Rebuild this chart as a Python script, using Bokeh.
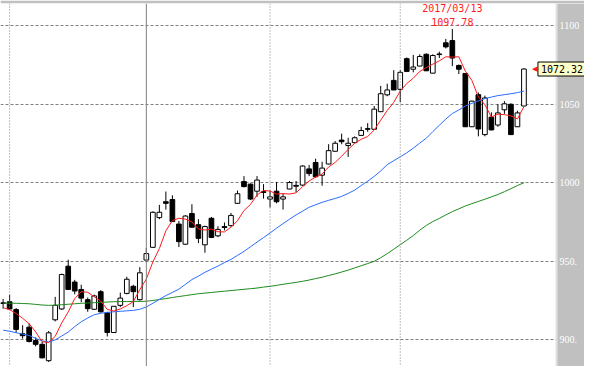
from bokeh.plotting import figure
from bokeh.models import (Range1d, FixedTicker, Span, Label, LabelSet, BoxAnnotation,
                          ColumnDataSource)
from bokeh.embed import file_html
from bokeh.resources import INLINE

# ---- data ----
opens = [923.6, 924.3, 919.3, 903.9, 908.1, 899.6, 897.2, 886.8, 912.8, 919.7,
         946.9, 936.8, 932.1, 925.6, 919.5, 930.7, 917.3, 904.7, 922.0, 929.6,
         934.1, 925.6, 950.8, 958.9, 977.8, 987.9, 989.3, 973.7, 960.9, 980.4,
         973.3, 960.5, 977.4, 966.2, 972.1, 972.7, 986.9, 1000.7, 999.1, 994.6,
         994.3, 989.6, 994.6, 989.6, 996.0, 998.3, 998.5, 1008.8, 1012.9, 1004.8,
         1011.9, 1020.0, 1027.1, 1023.7, 1025.5, 1030.1, 1034.4, 1034.0, 1045.2, 1055.9,
         1065.1, 1059.4, 1078.9, 1072.2, 1074.2, 1081.7, 1069.7, 1081.9, 1089.0, 1090.4,
         1074.6, 1069.5, 1035.6, 1056.0, 1030.6, 1041.7, 1036.7, 1046.4, 1049.9, 1035.6,
         1048.8]
highs = [926.0, 928.8, 920.3, 909.4, 910.6, 901.6, 898.7, 905.7, 927.4, 942.2,
         951.0, 938.2, 935.1, 927.0, 928.8, 931.7, 917.9, 921.5, 930.1, 940.2,
         935.1, 946.3, 958.5, 981.8, 985.9, 994.4, 992.0, 975.7, 979.4, 986.3,
         976.8, 972.7, 978.2, 972.3, 974.7, 980.8, 995.0, 1004.2, 999.5, 1004.2,
         999.1, 995.0, 1000.5, 993.0, 1001.1, 1001.1, 1011.1, 1011.3, 1015.3, 1013.3,
         1024.5, 1026.5, 1031.2, 1028.6, 1029.5, 1035.6, 1037.9, 1048.8, 1061.6, 1063.0,
         1071.6, 1071.6, 1079.7, 1081.3, 1081.7, 1082.3, 1081.7, 1083.4, 1091.5, 1097.78,
         1075.2, 1069.8, 1052.2, 1057.4, 1055.4, 1044.8, 1049.9, 1051.9, 1050.5, 1045.8,
         1072.8]
lows = [919.9, 919.2, 904.5, 900.8, 898.4, 895.9, 888.3, 886.0, 911.8, 919.1,
        931.9, 929.0, 924.0, 917.9, 919.1, 917.3, 902.2, 904.5, 920.9, 929.0,
        920.9, 925.0, 949.4, 958.7, 976.8, 982.9, 975.1, 959.1, 960.5, 971.5,
        961.6, 955.5, 964.8, 965.4, 969.7, 972.1, 986.7, 997.1, 989.1, 991.0,
        989.9, 984.3, 986.9, 982.9, 995.8, 994.0, 998.0, 1004.2, 1003.2, 998.1,
        1011.7, 1019.9, 1024.5, 1016.4, 1025.1, 1029.9, 1032.4, 1033.9, 1044.9, 1055.0,
        1058.9, 1051.3, 1070.6, 1070.2, 1074.1, 1071.1, 1069.5, 1079.3, 1085.4, 1074.2,
        1069.1, 1035.4, 1035.4, 1029.5, 1029.5, 1033.3, 1035.6, 1043.8, 1030.4, 1035.4,
        1048.7]
closes = [923.2, 919.7, 906.7, 902.7, 899.0, 897.2, 888.6, 904.5, 922.0, 941.6,
          932.1, 931.1, 926.6, 919.9, 928.0, 917.9, 904.7, 921.4, 926.6, 938.6,
          930.7, 942.7, 954.9, 981.2, 981.2, 986.9, 975.3, 962.5, 978.8, 971.7,
          964.6, 972.1, 965.2, 970.3, 971.5, 979.2, 993.0, 997.5, 989.6, 1001.7,
          993.8, 991.0, 987.9, 991.0, 1000.1, 997.8, 1010.6, 1005.8, 1003.8, 1009.3,
          1020.4, 1025.1, 1026.1, 1025.1, 1028.6, 1033.2, 1034.0, 1046.8, 1056.6, 1059.0,
          1059.0, 1070.2, 1070.8, 1073.6, 1080.3, 1071.2, 1080.9, 1081.5, 1086.4, 1079.3,
          1072.2, 1035.6, 1051.9, 1034.2, 1053.9, 1033.6, 1044.4, 1050.2, 1030.6, 1044.4,
          1072.32]
ma_short = [920.5, 919.3, 916.8, 913.8, 910.3, 905.1, 898.8, 898.4, 902.3, 910.8,
            917.8, 926.3, 930.7, 930.3, 927.5, 924.7, 919.4, 918.4, 919.7, 921.8,
            924.4, 932.0, 938.7, 949.6, 958.1, 969.4, 975.9, 977.4, 976.9, 975.0,
            970.6, 969.9, 970.5, 968.8, 968.7, 971.7, 975.8, 982.3, 986.2, 992.2,
            995.1, 994.7, 992.8, 993.1, 992.8, 993.6, 997.5, 1001.1, 1003.6, 1005.5,
            1010.0, 1012.9, 1016.9, 1021.2, 1025.1, 1027.6, 1029.4, 1033.5, 1039.8, 1045.9,
            1051.1, 1058.3, 1063.1, 1066.5, 1070.8, 1073.2, 1075.4, 1077.5, 1080.1, 1079.9,
            1080.1, 1071.0, 1065.1, 1054.6, 1049.6, 1041.8, 1043.6, 1043.3, 1042.5, 1040.6,
            1048.4]
ma_mid = [906.2, 905.5, 904.6, 903.7, 902.8, 901.0, 899.4, 898.7, 900.0, 902.5,
          905.0, 908.5, 911.5, 914.0, 916.0, 917.0, 917.5, 917.9, 918.2, 918.5,
          918.8, 919.5, 921.0, 923.3, 925.8, 928.2, 930.2, 932.3, 935.3, 938.4,
          940.6, 943.0, 945.0, 947.0, 949.2, 951.2, 953.8, 956.3, 959.3, 962.2,
          965.1, 968.0, 971.1, 974.0, 976.8, 979.5, 981.9, 984.4, 986.0, 987.5,
          988.8, 990.0, 991.3, 993.2, 995.3, 998.2, 1001.0, 1004.0, 1007.5, 1011.5,
          1014.0, 1016.5, 1019.0, 1022.0, 1025.2, 1028.3, 1032.5, 1036.5, 1040.5, 1044.0,
          1046.3, 1048.8, 1050.5, 1052.0, 1053.5, 1054.5, 1055.4, 1056.0, 1056.6, 1057.3,
          1058.3]
ma_long = [923.4, 923.4, 923.3, 923.2, 923.0, 922.6, 922.2, 922.0, 922.1, 922.4,
           922.7, 923.0, 923.3, 923.5, 923.7, 923.9, 924.1, 924.3, 924.4, 924.4,
           924.5, 924.5, 924.6, 925.1, 925.7, 926.3, 927.0, 927.6, 928.2, 928.8,
           929.4, 929.8, 930.2, 930.6, 931.0, 931.4, 931.8, 932.2, 932.6, 933.0,
           933.6, 934.1, 934.7, 935.4, 936.0, 936.6, 937.3, 938.1, 939.0, 939.9,
           941.0, 942.0, 943.2, 944.4, 945.8, 947.2, 948.6, 950.0, 952.3, 954.9,
           957.7, 960.6, 963.4, 966.4, 969.8, 972.8, 975.3, 977.3, 979.5, 981.6,
           983.4, 985.2, 986.7, 988.1, 989.5, 991.0, 992.5, 994.3, 996.2, 998.2,
           1000.0]
y_ticks = [900, 950, 1000, 1050, 1100]
y_tick_labels = ["900.", "950.", "1000", "1050", "1100"]
month_start_index = [1, 22, 41, 61]      # 2016/12, 2017/01, 2017/02, 2017/03
month_is_new_year = [False, True, False, False]
peak_date = "2017/03/13"

# ---- layout constants ----
W, H = 584, 366
X_LO, X_CHART_HI = -0.4, 85.0          # visible candle area
PANEL_PX = 28                          # width of the grey price-scale panel
chart_px = W - PANEL_PX
X_HI = X_LO + (X_CHART_HI - X_LO) * W / chart_px
GREY = "#c0c0c0"
FONT = "DejaVu Sans Mono"

idx = list(range(len(closes)))
p = figure(width=W, height=H, x_range=Range1d(X_LO, X_HI),
           y_range=Range1d(883.1, 1114.0), output_backend="svg",
           toolbar_location=None, y_axis_location=None, x_axis_location=None)
p.min_border_left = 0
p.min_border_bottom = 0
p.min_border_right = 0
p.min_border_top = 3
p.border_fill_color = GREY
p.background_fill_color = "white"
p.outline_line_color = None
p.xgrid.visible = False
p.ygrid.ticker = FixedTicker(ticks=y_ticks)
p.ygrid.grid_line_color = "#808080"
p.ygrid.grid_line_dash = "3 2"

for m, ny in zip(month_start_index, month_is_new_year):
    p.add_layout(Span(location=m, dimension="height", line_color="#808080",
                      line_width=1, line_dash="solid" if ny else "1 2"))

# candles
src = ColumnDataSource(dict(
    x=idx, o=opens, h=highs, l=lows, c=closes,
    top=[max(a, b) for a, b in zip(opens, closes)],
    bot=[min(a, b) for a, b in zip(opens, closes)],
    fill=["white" if c >= o else "black" for o, c in zip(opens, closes)],
))
p.segment(x0="x", y0="l", x1="x", y1="h", source=src, line_color="black", line_width=1)
p.vbar(x="x", width=0.72, top="top", bottom="bot", source=src,
       fill_color="fill", line_color="black", line_width=1)

# moving averages
p.line(idx, ma_long, line_color="#1f8a1f", line_width=1)
p.line(idx, ma_mid, line_color="#2a6cff", line_width=1)
p.line(idx, ma_short, line_color="#ff1a1a", line_width=1)

# peak annotation
pk = max(idx, key=lambda i: highs[i])
p.add_layout(Label(x=pk, y=highs[pk], text=f"{highs[pk]:.2f}", text_align="center",
                   text_baseline="bottom", y_offset=3, text_color="#ff1a1a",
                   text_font=FONT, text_font_size="10px"))
p.add_layout(Label(x=pk, y=highs[pk], text=peak_date, text_align="center",
                   text_baseline="bottom", y_offset=15, text_color="#ff1a1a",
                   text_font=FONT, text_font_size="10px"))

# grey price scale on the right, with its tick labels
p.add_layout(BoxAnnotation(left=X_CHART_HI, fill_color=GREY, fill_alpha=1.0,
                           line_color=None))
p.add_layout(Span(location=X_CHART_HI, dimension="height", line_color="#e2e2e2",
                  line_width=2))
tick_src = ColumnDataSource(dict(x=[X_CHART_HI] * len(y_ticks), y=y_ticks,
                                 t=y_tick_labels))
p.add_layout(LabelSet(x="x", y="y", text="t", source=tick_src, x_offset=3,
                      text_align="left", text_baseline="middle", text_color="white",
                      text_font=FONT, text_font_size="10px"))

# last price marker and box
last = idx[-1]
p.add_layout(Label(x=last, y=closes[-1], text="\u25c0", text_align="left",
                   text_baseline="middle", x_offset=8, text_color="#ff1a1a",
                   text_font="DejaVu Sans", text_font_size="7px"))
p.add_layout(Label(x=last, y=closes[-1], text=f"{closes[-1]:.2f}", text_align="left",
                   text_baseline="middle", x_offset=14, text_color="black",
                   text_font=FONT, text_font_size="10px",
                   background_fill_color="#ffffc8", border_line_color="black",
                   border_line_width=1, padding=3))

open("out.html", "w").write(file_html(p, INLINE))
